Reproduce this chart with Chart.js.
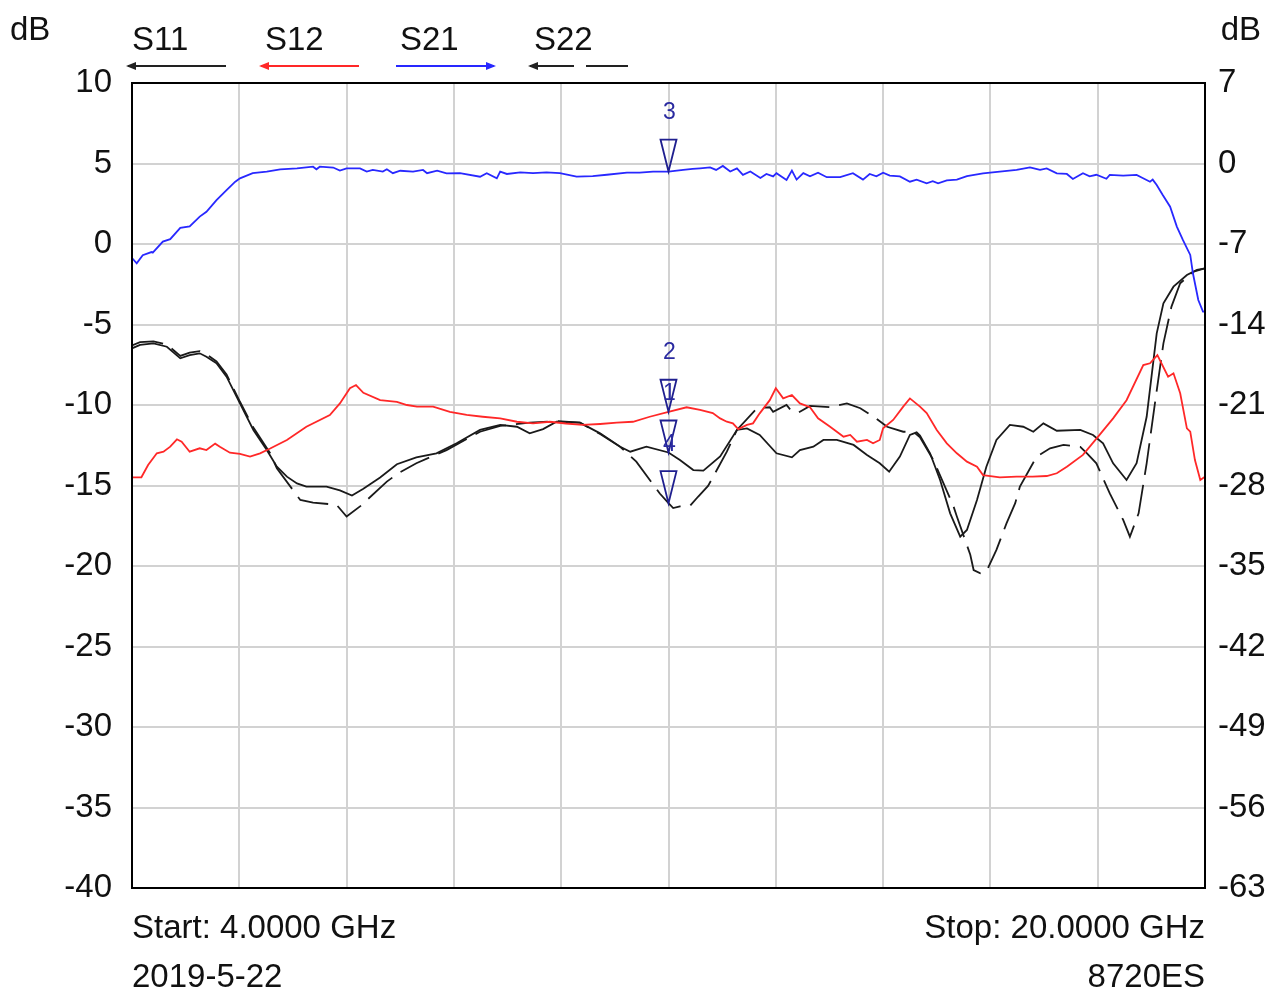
<!DOCTYPE html>
<html><head><meta charset="utf-8">
<script src="https://cdn.jsdelivr.net/npm/chart.js@4.4.1/dist/chart.umd.min.js"></script>
<style>html,body{margin:0;padding:0;background:#fff;overflow:hidden}</style>
</head><body>
<canvas id="c" width="1278" height="994"></canvas>
<script>
// ---- data (frequency in GHz, level in dB on the left axis) ----
const seriesNames = ['S11', 'S12', 'S21', 'S22'];

const s21Freq = [4.00,4.07,4.16,4.29,4.31,4.46,4.57,4.72,4.86,5.01,5.11,5.26,5.41,5.54,5.61,5.80,6.01,6.21,6.46,6.70,6.75,6.80,7.00,7.10,7.20,7.40,7.50,7.59,7.74,7.80,7.89,8.00,8.19,8.34,8.40,8.55,8.69,8.89,9.19,9.29,9.44,9.49,9.59,9.79,9.98,10.18,10.38,10.63,10.87,11.08,11.38,11.57,11.77,12.00,12.22,12.36,12.47,12.62,12.71,12.81,12.92,13.02,13.11,13.22,13.37,13.46,13.56,13.61,13.76,13.84,13.91,14.01,14.11,14.23,14.36,14.56,14.75,14.90,15.00,15.10,15.20,15.30,15.45,15.60,15.70,15.85,15.94,16.02,16.15,16.30,16.45,16.69,16.94,17.19,17.39,17.54,17.64,17.79,17.94,18.03,18.18,18.28,18.38,18.53,18.58,18.78,18.98,19.07,19.18,19.22,19.28,19.37,19.48,19.58,19.67,19.78,19.82,19.90,19.97,20.00];
const s21dB = [-0.87,-1.2,-0.7,-0.5,-0.54,0.15,0.3,1.0,1.1,1.7,2.0,2.73,3.35,3.87,4.08,4.4,4.49,4.64,4.7,4.8,4.64,4.8,4.75,4.56,4.7,4.7,4.5,4.6,4.5,4.64,4.4,4.55,4.5,4.6,4.4,4.55,4.39,4.4,4.18,4.4,4.08,4.5,4.35,4.45,4.4,4.45,4.4,4.18,4.22,4.3,4.43,4.43,4.5,4.5,4.6,4.66,4.7,4.76,4.6,4.85,4.5,4.7,4.29,4.5,4.1,4.35,4.2,4.4,3.98,4.56,4.0,4.4,4.2,4.43,4.15,4.15,4.4,4.0,4.35,4.2,4.43,4.25,4.2,3.87,4.0,3.77,3.9,3.77,3.95,4.0,4.22,4.39,4.5,4.6,4.76,4.6,4.7,4.39,4.35,4.04,4.4,4.2,4.3,4.05,4.29,4.25,4.29,4.1,3.87,4.0,3.66,3.04,2.32,1.08,0.25,-0.68,-1.82,-3.48,-4.2,-4.2];

const s12Freq = [4.00,4.14,4.24,4.37,4.47,4.57,4.67,4.74,4.86,5.01,5.11,5.24,5.31,5.46,5.61,5.76,5.91,6.06,6.31,6.60,6.95,7.10,7.25,7.34,7.45,7.70,7.95,8.10,8.25,8.49,8.74,8.99,9.23,9.49,9.74,9.98,10.23,10.47,10.72,10.98,11.23,11.47,11.72,12.00,12.27,12.47,12.66,12.77,12.87,12.96,13.04,13.17,13.26,13.36,13.51,13.60,13.71,13.84,13.96,14.11,14.23,14.41,14.61,14.71,14.81,14.96,15.05,15.15,15.20,15.35,15.50,15.60,15.75,15.85,16.00,16.15,16.30,16.45,16.60,16.69,16.94,17.19,17.43,17.64,17.79,17.94,18.18,18.40,18.63,18.83,19.08,19.18,19.29,19.45,19.53,19.63,19.73,19.78,19.85,19.93,20.00];
const s12dB = [-14.49,-14.49,-13.73,-13.0,-12.9,-12.59,-12.13,-12.28,-12.9,-12.69,-12.8,-12.4,-12.59,-12.96,-13.04,-13.2,-13.0,-12.7,-12.17,-11.35,-10.62,-9.9,-8.96,-8.76,-9.24,-9.7,-9.8,-10.0,-10.1,-10.1,-10.42,-10.62,-10.73,-10.83,-11.04,-11.14,-11.04,-11.15,-11.24,-11.18,-11.1,-11.04,-10.73,-10.42,-10.14,-10.3,-10.5,-10.83,-11.04,-11.14,-11.5,-11.24,-11.14,-10.52,-9.7,-8.96,-9.59,-9.38,-9.9,-10.14,-10.83,-11.35,-11.97,-11.86,-12.28,-12.17,-12.38,-12.17,-11.45,-10.93,-10.1,-9.59,-10.1,-10.5,-11.55,-12.38,-13.0,-13.52,-13.83,-14.35,-14.49,-14.45,-14.45,-14.41,-14.24,-13.83,-13.1,-12.0,-10.83,-9.7,-7.52,-7.41,-6.9,-8.24,-8.03,-9.27,-11.45,-11.66,-13.42,-14.66,-14.45];

const s11Freq = [4.00,4.12,4.32,4.52,4.72,4.86,5.01,5.11,5.26,5.41,5.61,5.81,6.01,6.16,6.31,6.46,6.60,6.90,7.10,7.28,7.45,7.70,7.95,8.24,8.54,8.84,9.19,9.49,9.74,9.93,10.13,10.33,10.68,10.98,11.28,11.43,11.67,12.00,12.17,12.37,12.52,12.77,13.02,13.17,13.36,13.61,13.84,13.96,14.16,14.31,14.51,14.76,14.96,15.15,15.29,15.45,15.60,15.70,15.75,15.90,16.05,16.20,16.35,16.45,16.60,16.74,16.89,17.09,17.29,17.44,17.59,17.79,18.14,18.33,18.48,18.63,18.83,18.98,19.13,19.28,19.38,19.53,19.73,19.88,20.00];
const s11dB = [-6.48,-6.27,-6.17,-6.38,-7.1,-6.9,-6.79,-7.0,-7.41,-8.24,-9.9,-11.55,-12.8,-13.83,-14.45,-14.87,-15.07,-15.07,-15.3,-15.62,-15.2,-14.5,-13.68,-13.25,-13.0,-12.38,-11.55,-11.24,-11.35,-11.76,-11.5,-11.04,-11.1,-11.76,-12.59,-12.9,-12.59,-12.95,-13.42,-14.04,-14.08,-13.2,-11.55,-11.45,-11.86,-13.0,-13.25,-12.8,-12.59,-12.17,-12.17,-12.48,-13.1,-13.62,-14.14,-13.2,-11.86,-11.7,-11.9,-13.0,-14.66,-16.73,-18.18,-17.76,-15.9,-13.83,-12.17,-11.24,-11.35,-11.66,-11.14,-11.6,-11.55,-11.86,-12.38,-13.62,-14.66,-13.62,-10.73,-5.55,-3.68,-2.65,-1.93,-1.61,-1.51];

const s22Freq = [4.00,4.12,4.32,4.52,4.72,4.86,5.01,5.11,5.26,5.41,5.61,5.81,6.06,6.16,6.51,6.70,7.05,7.20,7.40,7.80,7.97,8.24,8.69,9.19,9.49,9.93,10.33,10.68,10.98,11.28,11.52,11.87,12.00,12.07,12.17,12.32,12.44,12.59,12.87,13.02,13.32,13.51,13.56,13.76,13.84,13.94,14.11,14.41,14.66,14.86,15.06,15.26,15.50,15.65,15.75,15.95,16.25,16.30,16.50,16.55,16.65,16.74,16.89,17.04,17.17,17.24,17.49,17.69,17.89,18.14,18.24,18.38,18.58,18.78,18.88,19.01,19.13,19.26,19.38,19.50,19.63,19.83,20.00];
const s22dB = [-6.3,-6.1,-6.05,-6.25,-6.95,-6.75,-6.65,-6.85,-7.3,-8.1,-9.8,-11.4,-13.0,-13.93,-15.9,-16.06,-16.2,-16.93,-16.3,-14.76,-14.24,-13.62,-12.8,-11.66,-11.3,-11.1,-11.0,-11.1,-11.8,-12.6,-13.52,-15.5,-16.1,-16.4,-16.3,-16.27,-15.7,-15.03,-12.9,-11.55,-10.2,-10.14,-10.42,-10.0,-10.4,-10.46,-10.06,-10.14,-9.9,-10.2,-10.73,-11.35,-11.66,-11.66,-12.0,-13.42,-16.3,-16.93,-19.3,-20.25,-20.45,-20.35,-19.0,-17.35,-16.1,-15.07,-13.2,-12.69,-12.48,-12.6,-13.0,-13.62,-15.49,-17.14,-18.18,-16.73,-13.62,-9.7,-6.17,-3.89,-2.44,-1.72,-1.51];

const markerLabels = ['1', '2', '3', '4'];
const markerFreq = [12.0, 12.0, 12.0, 12.0];
const markerDB = [-12.95, -10.42, 4.5, -16.1];

const leftTicks = { min: -40, max: 10, step: 5 };
const rightTicks = { min: -63, max: 7, step: 7 };
const freqRange = { min: 4, max: 20, step: 1.6 };

const startText = 'Start: 4.0000 GHz';
const stopText = 'Stop: 20.0000 GHz';
const dateText = '2019-5-22';
const modelText = '8720ES';
const unitText = 'dB';

// ---- build chart ----
const zip = (f, v) => f.map((x, i) => ({ x: x, y: v[i] }));
const FONT = "'Liberation Sans', Arial, sans-serif";
const INK = '#111111';
const TXT = 33;

const framePlugin = {
  id: 'frame',
  afterDatasetsDraw(chart) {
    const { ctx, chartArea: a, scales } = chart;
    ctx.save();
    ctx.strokeStyle = '#000';
    ctx.lineWidth = 2;
    ctx.strokeRect(a.left, a.top, a.right - a.left, a.bottom - a.top);
    // markers
    ctx.strokeStyle = '#1f1f8f';
    ctx.fillStyle = '#2a2aa0';
    ctx.lineWidth = 1.8;
    ctx.font = '23px ' + FONT;
    ctx.textAlign = 'center';
    ctx.textBaseline = 'middle';
    for (let i = 0; i < markerLabels.length; i++) {
      const x = scales.x.getPixelForValue(markerFreq[i]);
      const y = scales.y.getPixelForValue(markerDB[i]);
      ctx.beginPath();
      ctx.moveTo(x, y);
      ctx.lineTo(x - 8, y - 32);
      ctx.lineTo(x + 8, y - 32);
      ctx.closePath();
      ctx.stroke();
    }
    for (let i = 0; i < markerLabels.length; i++) {
      const x = scales.x.getPixelForValue(markerFreq[i]);
      const y = scales.y.getPixelForValue(markerDB[i]);
      ctx.fillText(markerLabels[i], x + 1, y - 59);
    }
    ctx.restore();
  },
  afterDraw(chart) {
    const { ctx, chartArea: a } = chart;
    ctx.save();
    ctx.fillStyle = INK;
    ctx.font = TXT + 'px ' + FONT;
    ctx.textBaseline = 'middle';
    ctx.textAlign = 'left';
    ctx.fillText(unitText, 10, 31);
    ctx.textAlign = 'right';
    ctx.fillText(unitText, 1261, 31);
    // legend
    const items = [
      { x: 132, color: '#222', dash: [], dir: -1 },
      { x: 265, color: 'rgb(255,40,40)', dash: [], dir: -1 },
      { x: 400, color: 'rgb(40,40,255)', dash: [], dir: 1 },
      { x: 534, color: '#222', dash: [44, 12], dir: -1 }
    ];
    ctx.textAlign = 'left';
    items.forEach((it, i) => {
      ctx.fillStyle = INK;
      ctx.fillText(seriesNames[i], it.x, 41);
      const x0 = it.x - 4, x1 = it.x + 94, yy = 66;
      ctx.strokeStyle = it.color;
      ctx.fillStyle = it.color;
      ctx.lineWidth = 2;
      ctx.setLineDash(it.dash);
      ctx.beginPath();
      ctx.moveTo(x0, yy); ctx.lineTo(x1, yy); ctx.stroke();
      ctx.setLineDash([]);
      ctx.beginPath();
      if (it.dir < 0) {
        ctx.moveTo(x0 - 2, yy); ctx.lineTo(x0 + 8, yy - 4); ctx.lineTo(x0 + 8, yy + 4);
      } else {
        ctx.moveTo(x1 + 2, yy); ctx.lineTo(x1 - 8, yy - 4); ctx.lineTo(x1 - 8, yy + 4);
      }
      ctx.closePath(); ctx.fill();
    });
    // footer
    ctx.fillStyle = INK;
    ctx.textAlign = 'left';
    ctx.fillText(startText, a.left, 929);
    ctx.fillText(dateText, a.left, 978);
    ctx.textAlign = 'right';
    ctx.fillText(stopText, a.right, 929);
    ctx.fillText(modelText, a.right, 978);
    ctx.restore();
  }
};

new Chart(document.getElementById('c'), {
  type: 'line',
  data: {
    datasets: [
      { label: 'S21', data: zip(s21Freq, s21dB), borderColor: 'rgb(40,40,255)', borderWidth: 1.8 },
      { label: 'S12', data: zip(s12Freq, s12dB), borderColor: 'rgb(255,40,40)', borderWidth: 1.8 },
      { label: 'S22', data: zip(s22Freq, s22dB), borderColor: '#1a1a1a', borderWidth: 1.8, borderDash: [32, 10] },
      { label: 'S11', data: zip(s11Freq, s11dB), borderColor: '#1a1a1a', borderWidth: 1.8 }
    ]
  },
  options: {
    responsive: false,
    animation: false,
    devicePixelRatio: 1,
    elements: { point: { radius: 0 }, line: { tension: 0 } },
    layout: { padding: { top: 83, bottom: 106, left: 0, right: 0 } },
    plugins: { legend: { display: false }, tooltip: { enabled: false } },
    scales: {
      x: {
        type: 'linear', min: freqRange.min, max: freqRange.max,
        ticks: { display: false, stepSize: freqRange.step },
        grid: { color: '#d2d2d2', lineWidth: 2, drawTicks: false },
        border: { display: false },
        afterFit: s => { s.height = 0; }
      },
      y: {
        position: 'left', min: leftTicks.min, max: leftTicks.max,
        ticks: { stepSize: leftTicks.step, color: INK, font: { size: TXT, family: FONT }, padding: 20 },
        grid: { color: '#d2d2d2', lineWidth: 2, drawTicks: false },
        border: { display: false },
        afterFit: s => { s.width = 132; }
      },
      y2: {
        position: 'right', min: rightTicks.min, max: rightTicks.max,
        ticks: { stepSize: rightTicks.step, color: INK, font: { size: TXT, family: FONT }, padding: 13 },
        grid: { display: false, drawTicks: false },
        border: { display: false },
        afterFit: s => { s.width = 73; }
      }
    }
  },
  plugins: [framePlugin]
});
</script>
</body></html>
